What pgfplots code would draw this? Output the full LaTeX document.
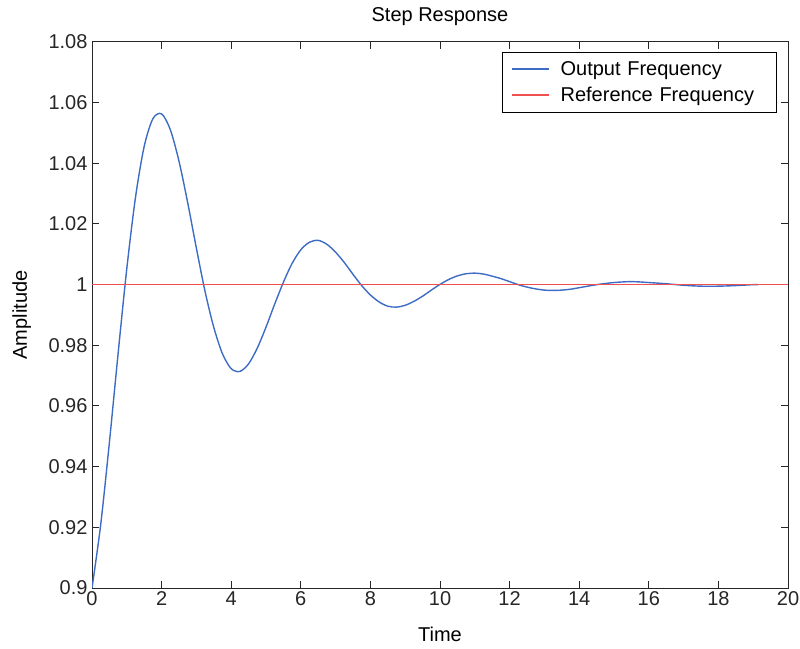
\documentclass[border=0pt]{standalone}
\usepackage{fontspec}
\setmainfont{Liberation Sans}
\usepackage{pgfplots}
\pgfplotsset{compat=1.18}

\definecolor{outblue}{RGB}{62,108,196}
\definecolor{refred}{RGB}{240,80,80}

\begin{document}
\begin{tikzpicture}
\useasboundingbox (0,0) rectangle (800pt,648pt);
\begin{axis}[
  at={(92pt,60pt)},
  anchor=south west,
  scale only axis,
  width=696pt,
  height=546pt,
  xmin=0, xmax=20,
  ymin=0.9, ymax=1.08,
  xtick={0,2,...,20},
  ytick={0.9,0.92,0.94,0.96,0.98,1,1.02,1.04,1.06,1.08},
  yticklabels={0.9,0.92,0.94,0.96,0.98,1,1.02,1.04,1.06,1.08},
  /pgf/number format/assume math mode=true,
  font=\fontsize{20}{24}\selectfont,
  tick label style={font=\fontsize{20}{24}\selectfont, black!85},
  tick align=inside,
  major tick length=7pt,
  xtick pos=both,
  ytick pos=both,
  axis line style={line width=1pt, black!85},
  tick style={line width=1pt, black!85},
  yticklabel style={xshift=-1pt},
  title={Step Response},
  title style={at={(axis description cs:0.5,1)}, anchor=base, yshift=14pt},
  xlabel={Time},
  xlabel style={at={(axis description cs:0.5,0)}, anchor=base, yshift=-53pt},
  ylabel={Amplitude},
  ylabel style={at={(axis description cs:0,0.5)}, anchor=base, yshift=65pt},
  legend style={
    at={(1,1)}, anchor=north east, xshift=-11pt, yshift=-10pt,
    draw=black, line width=0.8pt,
    font=\fontsize{20}{24}\selectfont,
    inner xsep=9pt, inner ysep=8pt,
    row sep=7pt,
    nodes={inner xsep=2pt, inner ysep=1.5pt},
    /tikz/every odd column/.append style={column sep=9pt},
    /tikz/every even column/.append style={text width=205pt},
  },
  legend cell align=left,
  legend image code/.code={\draw[#1, line width=1.4pt] (0pt,0.5pt) -- (37pt,0.5pt);},
]
\addplot[color=outblue, line width=1.4pt, smooth] coordinates {
  (0,0.9) (0.25,0.9209) (0.5,0.9480) (0.75,0.9773) (1.0,1.0053)
  (1.25,1.0288) (1.5,1.0456) (1.75,1.0547) (2.0,1.0563) (2.25,1.0511)
  (2.5,1.0407) (2.75,1.0270) (3.0,1.0120) (3.25,0.9977) (3.5,0.9859)
  (3.75,0.9772) (4.0,0.9723) (4.25,0.9714) (4.5,0.9739) (4.75,0.9791)
  (5.0,0.9860) (5.25,0.9936) (5.5,1.0008) (5.75,1.0070) (6.0,1.0115)
  (6.25,1.0140) (6.5,1.0146) (6.75,1.0133) (7.0,1.0107) (7.25,1.0073)
  (7.5,1.0034) (7.75,0.9997) (8.0,0.9966) (8.25,0.9943) (8.5,0.9929)
  (8.75,0.9926) (9.0,0.9932) (9.25,0.9945) (9.5,0.9962) (9.75,0.9982)
  (10.0,1.0001) (10.25,1.0017) (10.5,1.0029) (10.75,1.0036) (11.0,1.0038)
  (11.25,1.0035) (11.5,1.0028) (11.75,1.0020) (12.0,1.0010) (12.25,1.0000)
  (12.5,0.9992) (12.75,0.9986) (13.0,0.9982) (13.25,0.9981) (13.5,0.9982)
  (13.75,0.9985) (14.0,0.9990) (14.5,1.0000) (15.0,1.0007) (15.5,1.0010)
  (16.0,1.0007) (16.5,1.0003) (17.0,0.9998) (17.5,0.9995) (18.0,0.9995)
  (18.5,0.9997) (19.0,1.0000) (19.15,1.0000)
};
\addlegendentry{Output Frequency}
\addplot[color=refred, line width=1.4pt] coordinates {(0,1) (20,1)};
\addlegendentry{Reference Frequency}
\end{axis}
\end{tikzpicture}
\end{document}
